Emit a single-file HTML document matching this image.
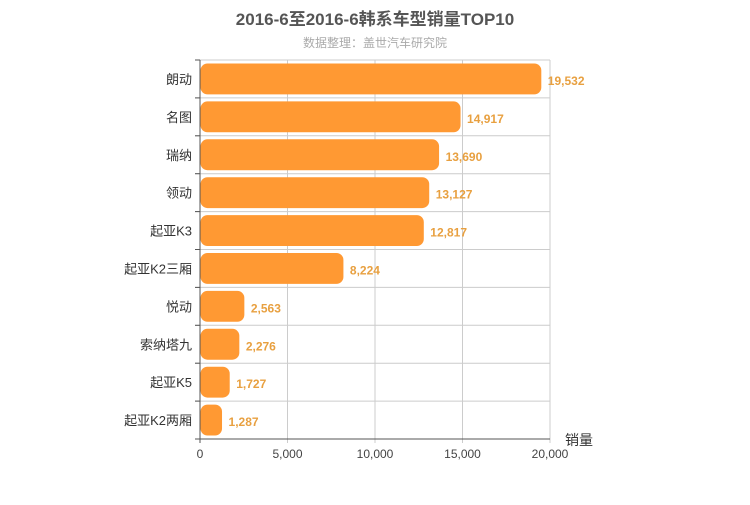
<!DOCTYPE html>
<html><head><meta charset="utf-8"><style>
body{margin:0;background:#fff;font-family:"Liberation Sans","Noto Sans CJK SC",sans-serif}
</style></head><body>
<svg width="750" height="500" id="c" font-family="Liberation Sans, Noto Sans CJK SC, sans-serif">
<text x="375" y="25" text-anchor="middle" font-size="17" font-weight="bold" fill="#555">2016-6至2016-6韩系车型销量TOP10</text>
<text x="375" y="47" text-anchor="middle" font-size="12" fill="#aaa">数据整理：盖世汽车研究院</text>
<g id="g"></g>
<text x="565" y="445" font-size="14" fill="#333">销量</text>
</svg>
<script>
const categories=["朗动","名图","瑞纳","领动","起亚K3","起亚K2三厢","悦动","索纳塔九","起亚K5","起亚K2两厢"];
const values=[19532,14917,13690,13127,12817,8224,2563,2276,1727,1287];
const ticks=[0,5000,10000,15000,20000];
const x0=200,x1=550,yTop=60,yBot=439,maxV=20000;
const xs=v=>x0+(v/maxV)*(x1-x0);
const rowH=(yBot-yTop)/categories.length;
const g=document.getElementById('g');const NS="http://www.w3.org/2000/svg";
function mk(t,a){const e=document.createElementNS(NS,t);for(const k in a)e.setAttribute(k,a[k]);g.appendChild(e);return e;}
ticks.forEach(t=>{
 const l=mk('line',{x1:xs(t),x2:xs(t),y1:yTop,y2:yBot+4,stroke:t?'#ccc':'#555'});
 
 
 const tx=mk('text',{x:xs(t),y:yBot+19,'text-anchor':'middle','font-size':12,fill:'#444'});
 tx.textContent=t.toLocaleString('en-US');
 
 
});
for(let i=0;i<=categories.length;i++){
 const y=yTop+i*rowH;
 const l=mk('line',{x1:x0-5,x2:x1,y1:y,y2:y,stroke:'#ccc'});
 
 
 const tk=mk('line',{x1:x0-5,x2:x0,y1:y,y2:y,stroke:'#555'});
 
 
}
const ax=mk('line',{x1:x0,x2:x1,y1:yBot,y2:yBot,stroke:'#555'});


categories.forEach((c,i)=>{
 const y=yTop+i*rowH;
 const r=mk('rect',{x:x0+0.5,y:y+3.5,width:xs(values[i])-x0-1,height:rowH-7,rx:7,fill:'#ff9933'});
 
 
 const lb=mk('text',{x:x0-8,y:y+rowH/2+5,'text-anchor':'end','font-size':13,fill:'#333'});
 lb.textContent=c;
 
 
 const v=mk('text',{x:xs(values[i])+6,y:y+rowH/2+6,'font-size':12,'font-weight':'bold',fill:'#e8a040'});
 v.textContent=values[i].toLocaleString('en-US');
 
 
});
const ay=mk('line',{x1:x0,x2:x0,y1:yTop,y2:yBot,stroke:'#555'});


</script></body></html>
